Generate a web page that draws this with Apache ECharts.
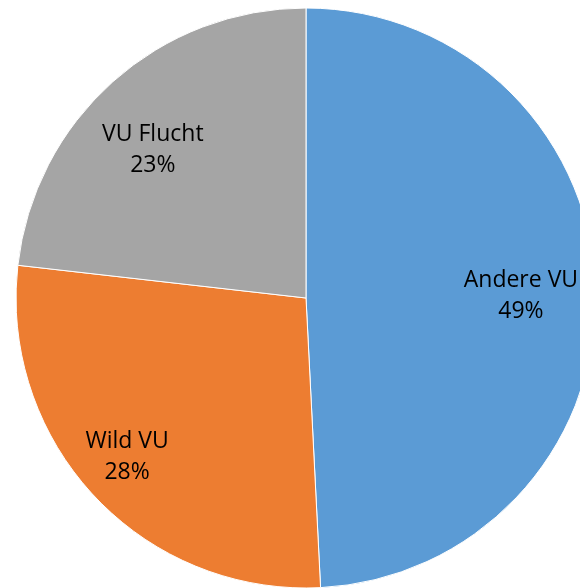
<!DOCTYPE html>
<html>
<head>
<meta charset="utf-8">
<style>
  html, body { margin: 0; padding: 0; background: #ffffff; }
  #chart { width: 580px; height: 588px; }
</style>
<script src="https://cdn.jsdelivr.net/npm/echarts@6/dist/echarts.min.js"></script>
</head>
<body>
<div id="chart"></div>
<script>
const categories = ['Andere VU', 'Wild VU', 'VU Flucht'];
const values = [49.2, 27.6, 23.2];
const colors = ['#5B9BD5', '#ED7D31', '#A5A5A5'];

const labelOffsets = [[-3, 3], [-20, 10], [-8, 15]];

const chart = echarts.init(document.getElementById('chart'), null, { renderer: 'canvas' });

const sliceData = categories.map((name, i) => ({
  name: name,
  value: values[i],
  itemStyle: { color: colors[i] }
}));

const labelData = categories.map((name, i) => ({
  name: name,
  value: values[i],
  label: { offset: labelOffsets[i] }
}));

chart.setOption({
  animation: false,
  backgroundColor: '#ffffff',
  series: [
    {
      type: 'pie',
      center: [306, 298],
      radius: [0, 290],
      startAngle: 90,
      clockwise: true,
      silent: true,
      label: { show: false },
      labelLine: { show: false },
      itemStyle: { borderColor: '#ffffff', borderWidth: 1 },
      data: sliceData
    },
    {
      type: 'pie',
      center: [306, 298],
      radius: [140, 290],
      startAngle: 90,
      clockwise: true,
      silent: true,
      itemStyle: { color: 'rgba(0,0,0,0)' },
      label: {
        show: true,
        position: 'inside',
        formatter: p => p.name + '\n' + Math.round(p.value) + '%',
        fontFamily: 'Open Sans',
        fontSize: 23,
        lineHeight: 31,
        color: '#000000',
        align: 'center'
      },
      labelLine: { show: false },
      data: labelData
    }
  ]
});
</script>
</body>
</html>
